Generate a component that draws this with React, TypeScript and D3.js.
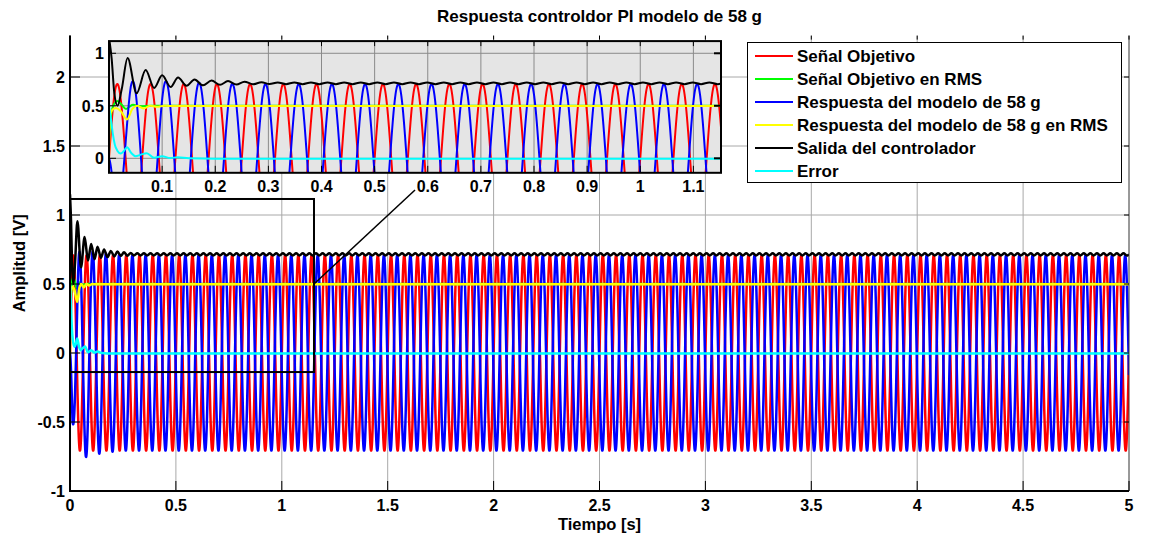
import React from "react";
import * as d3 from "d3";

const W = 1149;
const H = 540;

// ---- tick values -------------------------------------------------------
const MAIN_X_TICKS = [0, 0.5, 1, 1.5, 2, 2.5, 3, 3.5, 4, 4.5, 5];
const MAIN_Y_TICKS = [-1, -0.5, 0, 0.5, 1, 1.5, 2];
const INSET_X_TICKS = [0.1, 0.2, 0.3, 0.4, 0.5, 0.6, 0.7, 0.8, 0.9, 1, 1.1];
const INSET_Y_TICKS = [0, 0.5, 1];

// ---- zoom window (data units) ------------------------------------------
const ZOOM_X = [0, 1.152];
const ZOOM_Y = [-0.138, 1.116];
const CONNECTOR_FROM = [1.152, 0.5];
const CONNECTOR_TO = [1.629, 1.181];

// ---- sinusoidal signals --------------------------------------------------
const SIGNAL_FREQ_HZ = 16;
const TARGET_AMPLITUDE = 0.707;
const RESPONSE_DELAY_S = 0.029;
const SAMPLE_STEP_S = 0.0005;
const T_END = 5;

// peak magnitude of the model response during start-up
const RESPONSE_ENV_T = [0, 0.012, 0.041, 0.073, 0.104, 0.136, 0.17, 0.25, 5];
const RESPONSE_ENV_V = [0, 0.5, 0.73, 0.755, 0.735, 0.73, 0.72, 0.707, 0.707];

// ---- slowly varying signals (knots) ------------------------------------
const TARGET_RMS_T = [0, 0.004, 0.01, 0.016, 0.024, 0.032, 0.045, 0.06, 0.08, 5];
const TARGET_RMS_V = [0.2, 0.42, 0.52, 0.545, 0.51, 0.47, 0.51, 0.495, 0.5, 0.5];

const RESPONSE_RMS_T = [0, 0.002, 0.006, 0.013, 0.022, 0.034, 0.044, 0.053, 0.065, 0.078, 0.09, 0.105, 0.12, 5];
const RESPONSE_RMS_V = [0, 0.4, 0.46, 0.48, 0.45, 0.37, 0.47, 0.5, 0.475, 0.5, 0.49, 0.5, 0.498, 0.498];

const CONTROL_T = [0, 0.005, 0.01, 0.016, 0.024, 0.035, 0.052, 0.069, 0.085, 0.1, 0.116, 0.13, 0.146, 0.161, 0.177, 0.193, 0.209, 0.224, 0.24, 0.255, 0.271, 0.287, 0.302];
const CONTROL_V = [1.15, 0.95, 0.62, 0.5, 0.66, 0.955, 0.62, 0.84, 0.67, 0.79, 0.68, 0.77, 0.69, 0.75, 0.695, 0.74, 0.7, 0.735, 0.703, 0.73, 0.705, 0.725, 0.707];
const CONTROL_STEADY_MEAN = 0.714;
const CONTROL_STEADY_RIPPLE = 0.008;
const CONTROL_RIPPLE_HZ = 32;

const ERROR_T = [0, 0.003, 0.007, 0.011, 0.016, 0.022, 0.028, 0.034, 0.042, 0.05, 0.06, 0.071, 0.085, 0.1, 0.115, 0.13, 0.15, 0.2, 5];
const ERROR_V = [0.5, 0.4, 0.24, 0.13, 0.07, 0.045, 0.07, 0.105, 0.05, 0.02, 0.035, 0.048, 0.005, 0.02, 0.003, 0.01, 0, -0.004, -0.004];

// ---- legend --------------------------------------------------------------
const SERIES_NAMES = [
  "Señal Objetivo",
  "Señal Objetivo en RMS",
  "Respuesta del modelo de 58 g",
  "Respuesta del modelo de 58 g en RMS",
  "Salida del controlador",
  "Error",
];
const SERIES_COLORS = ["#ff0000", "#00ff00", "#0000ff", "#ffff00", "#000000", "#00ffff"];

const FONT = "'Liberation Sans', Arial, Helvetica, sans-serif";

type Pt = [number, number];

function zipKnots(ts: number[], vs: number[]): Pt[] {
  return ts.map((t, i) => [t, vs[i]] as Pt);
}

function buildSeries(): Pt[][] {
  const times = d3.range(0, T_END + 1e-9, SAMPLE_STEP_S);
  const w = 2 * Math.PI * SIGNAL_FREQ_HZ;
  const env = d3.scaleLinear().domain(RESPONSE_ENV_T).range(RESPONSE_ENV_V).clamp(true);
  const target: Pt[] = times.map((t) => [t, TARGET_AMPLITUDE * Math.sin(w * t)]);
  const response: Pt[] = times.map((t) => [t, env(t) * Math.sin(w * (t - RESPONSE_DELAY_S))]);

  // controller output: start-up knots followed by its steady ripple
  const control = zipKnots(CONTROL_T, CONTROL_V);
  const half = 0.5 / CONTROL_RIPPLE_HZ;
  let k = 1;
  for (let t = CONTROL_T[CONTROL_T.length - 1] + half; t <= T_END; t += half, k++) {
    control.push([t, CONTROL_STEADY_MEAN + (k % 2 === 1 ? CONTROL_STEADY_RIPPLE : -CONTROL_STEADY_RIPPLE)]);
  }
  control.push([T_END, CONTROL_STEADY_MEAN]);

  return [
    target,
    zipKnots(TARGET_RMS_T, TARGET_RMS_V),
    response,
    zipKnots(RESPONSE_RMS_T, RESPONSE_RMS_V),
    control,
    zipKnots(ERROR_T, ERROR_V),
  ];
}

const SMOOTH = [false, true, false, true, true, true];

function Plot({ series, xs, ys, clipId, width }: { series: Pt[][]; xs: any; ys: any; clipId: string; width: number }) {
  const xMax = xs.domain()[1];
  return (
    <g clipPath={`url(#${clipId})`}>
      {series.map((s, i) => {
        const data = s.filter((p, j) => p[0] <= xMax + 0.02 || (j > 0 && s[j - 1][0] <= xMax + 0.02));
        const line = d3
          .line<Pt>()
          .x((d) => xs(d[0]))
          .y((d) => ys(d[1]))
          .curve(SMOOTH[i] ? d3.curveMonotoneX : d3.curveLinear);
        return (
          <path key={i} d={line(data) || ""} fill="none" stroke={SERIES_COLORS[i]} strokeWidth={width} strokeLinejoin="round" />
        );
      })}
    </g>
  );
}

export default function App() {
  const series = buildSeries();

  // main axes
  const L = 70, R = 1129, T = 35.6, B = 491;
  const mx = d3.scaleLinear().domain([0, 5]).range([L, R]);
  const my = d3.scaleLinear().domain([-1, 2.3]).range([B, T]);

  // inset axes
  const IL = 109, IR = 721, IT = 41.1, IB = 172.8;
  const ix = d3.scaleLinear().domain(ZOOM_X).range([IL, IR]);
  const iy = d3.scaleLinear().domain(ZOOM_Y).range([IB, IT]);

  const gridColor = "#a8a8a8";
  const fmt = (v: number) => String(v);

  return (
    <svg width={W} height={H} style={{ position: "absolute", left: 0, top: 0, background: "#fff" }} fontFamily={FONT}>
      <defs>
        <clipPath id="mainClip">
          <rect x={L} y={T} width={R - L} height={B - T} />
        </clipPath>
        <clipPath id="insetClip">
          <rect x={IL} y={IT} width={IR - IL} height={IB - IT} />
        </clipPath>
      </defs>
      <rect x={0} y={0} width={W} height={H} fill="#fff" />

      {/* main grid */}
      {MAIN_X_TICKS.slice(1, -1).map((v) => (
        <line key={"gx" + v} x1={mx(v)} x2={mx(v)} y1={T} y2={B} stroke={gridColor} strokeWidth={1} />
      ))}
      {MAIN_Y_TICKS.slice(1).map((v) => (
        <line key={"gy" + v} x1={L} x2={R} y1={my(v)} y2={my(v)} stroke={gridColor} strokeWidth={1} />
      ))}

      {/* main series */}
      <Plot series={series} xs={mx} ys={my} clipId="mainClip" width={2.5} />

      {/* main frame + ticks */}
      <line x1={R} x2={R} y1={T} y2={B} stroke="#333" strokeWidth={1} />
      <line x1={L} x2={L} y1={T} y2={B + 1} stroke="#000" strokeWidth={2} />
      <line x1={L - 1} x2={R} y1={B} y2={B} stroke="#000" strokeWidth={2} />
      {MAIN_X_TICKS.map((v) => (
        <g key={"tx" + v}>
          <line x1={mx(v)} x2={mx(v)} y1={B} y2={B - 10} stroke="#000" strokeWidth={1} />
          <line x1={mx(v)} x2={mx(v)} y1={T} y2={T + 4} stroke="#000" strokeWidth={1} />
          <text x={mx(v)} y={511} textAnchor="middle" fontSize={16} fontWeight="bold">
            {fmt(v)}
          </text>
        </g>
      ))}
      {MAIN_Y_TICKS.map((v) => (
        <g key={"ty" + v}>
          <line x1={L} x2={L + 10} y1={my(v)} y2={my(v)} stroke="#000" strokeWidth={1} />
          <line x1={R} x2={R - 5} y1={my(v)} y2={my(v)} stroke="#000" strokeWidth={1} />
          <text x={65} y={my(v) + 6} textAnchor="end" fontSize={16} fontWeight="bold">
            {fmt(v)}
          </text>
        </g>
      ))}

      {/* zoom window outline and connector */}
      <rect
        x={mx(ZOOM_X[0])}
        y={my(ZOOM_Y[1])}
        width={mx(ZOOM_X[1]) - mx(ZOOM_X[0])}
        height={my(ZOOM_Y[0]) - my(ZOOM_Y[1])}
        fill="none"
        stroke="#000"
        strokeWidth={2}
      />
      <line
        x1={mx(CONNECTOR_FROM[0])}
        y1={my(CONNECTOR_FROM[1])}
        x2={mx(CONNECTOR_TO[0])}
        y2={my(CONNECTOR_TO[1])}
        stroke="#000"
        strokeWidth={1.5}
      />

      {/* inset */}
      <rect x={IL} y={IT} width={IR - IL} height={IB - IT} fill="#e5e5e5" />
      {INSET_X_TICKS.map((v) => (
        <line key={"igx" + v} x1={ix(v)} x2={ix(v)} y1={IT} y2={IB} stroke="#8a8a8a" strokeWidth={1} />
      ))}
      {INSET_Y_TICKS.map((v) => (
        <line key={"igy" + v} x1={IL} x2={IR} y1={iy(v)} y2={iy(v)} stroke="#8a8a8a" strokeWidth={1} />
      ))}
      <Plot series={series} xs={ix} ys={iy} clipId="insetClip" width={2} />
      <rect x={IL} y={IT} width={IR - IL} height={IB - IT} fill="none" stroke="#000" strokeWidth={2} />
      {INSET_X_TICKS.map((v) => (
        <g key={"itx" + v}>
          <line x1={ix(v)} x2={ix(v)} y1={IB} y2={IB - 7} stroke="#000" strokeWidth={1} />
          <line x1={ix(v)} x2={ix(v)} y1={IT} y2={IT + 5} stroke="#000" strokeWidth={1} />
          <text x={ix(v)} y={191.5} textAnchor="middle" fontSize={16} fontWeight="bold">
            {fmt(v)}
          </text>
        </g>
      ))}
      {INSET_Y_TICKS.map((v) => (
        <g key={"ity" + v}>
          <line x1={IL} x2={IL + 7} y1={iy(v)} y2={iy(v)} stroke="#000" strokeWidth={1} />
          <line x1={IR} x2={IR - 7} y1={iy(v)} y2={iy(v)} stroke="#000" strokeWidth={2} />
          <text x={104} y={iy(v) + 6} textAnchor="end" fontSize={16} fontWeight="bold">
            {fmt(v)}
          </text>
        </g>
      ))}

      {/* legend */}
      <rect x={747.5} y={42.5} width={374} height={140} fill="#fff" stroke="#000" strokeWidth={1} />
      {SERIES_NAMES.map((name, i) => {
        const y = 56 + i * 23;
        return (
          <g key={name}>
            <line x1={755} x2={793} y1={y} y2={y} stroke={SERIES_COLORS[i]} strokeWidth={2} />
            <text x={797} y={y + 6} fontSize={17} fontWeight="bold">
              {name}
            </text>
          </g>
        );
      })}

      {/* titles */}
      <text x={(L + R) / 2} y={22} textAnchor="middle" fontSize={17} fontWeight="bold">
        Respuesta controldor PI modelo de 58 g
      </text>
      <text x={(L + R) / 2} y={530} textAnchor="middle" fontSize={16.5} fontWeight="bold">
        Tiempo [s]
      </text>
      <text transform={`translate(25,${(T + B) / 2}) rotate(-90)`} textAnchor="middle" fontSize={16.5} fontWeight="bold">
        Amplitud [V]
      </text>
    </svg>
  );
}
